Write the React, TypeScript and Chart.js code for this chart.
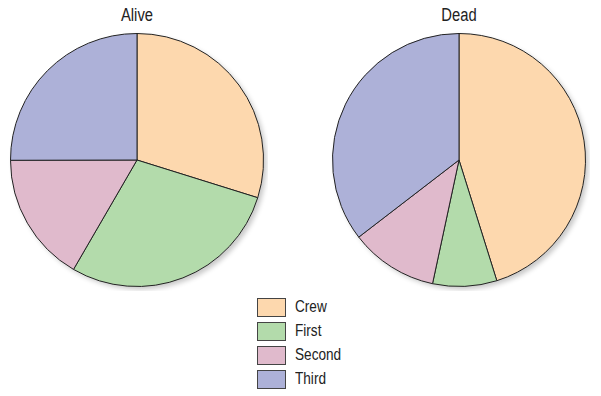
import React, { useEffect, useRef } from "react";
import { Chart, registerables } from "chart.js";

Chart.register(...registerables);

const classes = ["Crew", "First", "Second", "Third"];
const aliveValues = [212, 203, 118, 178];
const deadValues = [673, 122, 167, 528];
const panelTitles = ["Alive", "Dead"];
const sliceColors = ["#FDD8AE", "#B3DBAB", "#E0BACC", "#ADB1D8"];

const FONT = '"Liberation Sans Narrow", "Arial Narrow", "Liberation Sans", sans-serif';

const shadowPlugin = {
  id: "pieShadow",
  beforeDatasetsDraw(chart: any) {
    const meta = chart.getDatasetMeta(0);
    const arc = meta.data[0];
    if (!arc) return;
    const ctx = chart.ctx;
    ctx.save();
    ctx.shadowColor = "rgba(0,0,0,0.22)";
    ctx.shadowBlur = 5;
    ctx.shadowOffsetX = 3;
    ctx.shadowOffsetY = 3;
    ctx.fillStyle = "#ffffff";
    ctx.beginPath();
    ctx.arc(arc.x, arc.y, arc.outerRadius, 0, Math.PI * 2);
    ctx.fill();
    ctx.restore();
  },
};

function PieCanvas({ values, left, top }: { values: number[]; left: number; top: number }) {
  const ref = useRef<HTMLCanvasElement | null>(null);
  useEffect(() => {
    if (!ref.current) return;
    const chart = new Chart(ref.current, {
      type: "pie",
      data: {
        labels: classes,
        datasets: [
          {
            data: values,
            backgroundColor: sliceColors,
            borderColor: "#222222",
            borderWidth: 1,
          },
        ],
      },
      options: {
        responsive: false,
        animation: false,
        layout: { padding: 4 },
        plugins: {
          legend: { display: false },
          tooltip: { enabled: false },
          title: { display: false },
        },
      },
      plugins: [shadowPlugin],
    });
    return () => chart.destroy();
  }, [values]);
  return (
    <canvas
      ref={ref}
      width={262}
      height={262}
      style={{ position: "absolute", left, top, width: 262, height: 262 }}
    />
  );
}

export default function App() {
  const centers = [136.5, 459];
  return (
    <div
      style={{
        position: "fixed",
        left: 0,
        top: 0,
        width: 601,
        height: 396,
        background: "#ffffff",
        fontFamily: FONT,
        color: "#222",
      }}
    >
      {panelTitles.map((t, i) => (
        <div
          key={t}
          style={{
            position: "absolute",
            left: centers[i] - 60,
            width: 120,
            top: 4,
            textAlign: "center",
            fontSize: 18,
            lineHeight: "22px",
            transform: "scaleX(0.82)",
          }}
        >
          {t}
        </div>
      ))}
      <PieCanvas values={aliveValues} left={centers[0] - 131} top={29} />
      <PieCanvas values={deadValues} left={centers[1] - 131} top={29} />
      <div style={{ position: "absolute", left: 257, top: 295 }}>
        {classes.map((c, i) => (
          <div
            key={c}
            style={{ display: "flex", alignItems: "center", height: 24 }}
          >
            <div
              style={{
                width: 27,
                height: 17,
                background: sliceColors[i],
                border: "1px solid #444",
                boxSizing: "content-box",
              }}
            />
            <span
              style={{
                marginLeft: 9,
                fontSize: 17,
                lineHeight: "20px",
                display: "inline-block",
                transform: "scaleX(0.8)",
                transformOrigin: "left center",
              }}
            >
              {c}
            </span>
          </div>
        ))}
      </div>
    </div>
  );
}
